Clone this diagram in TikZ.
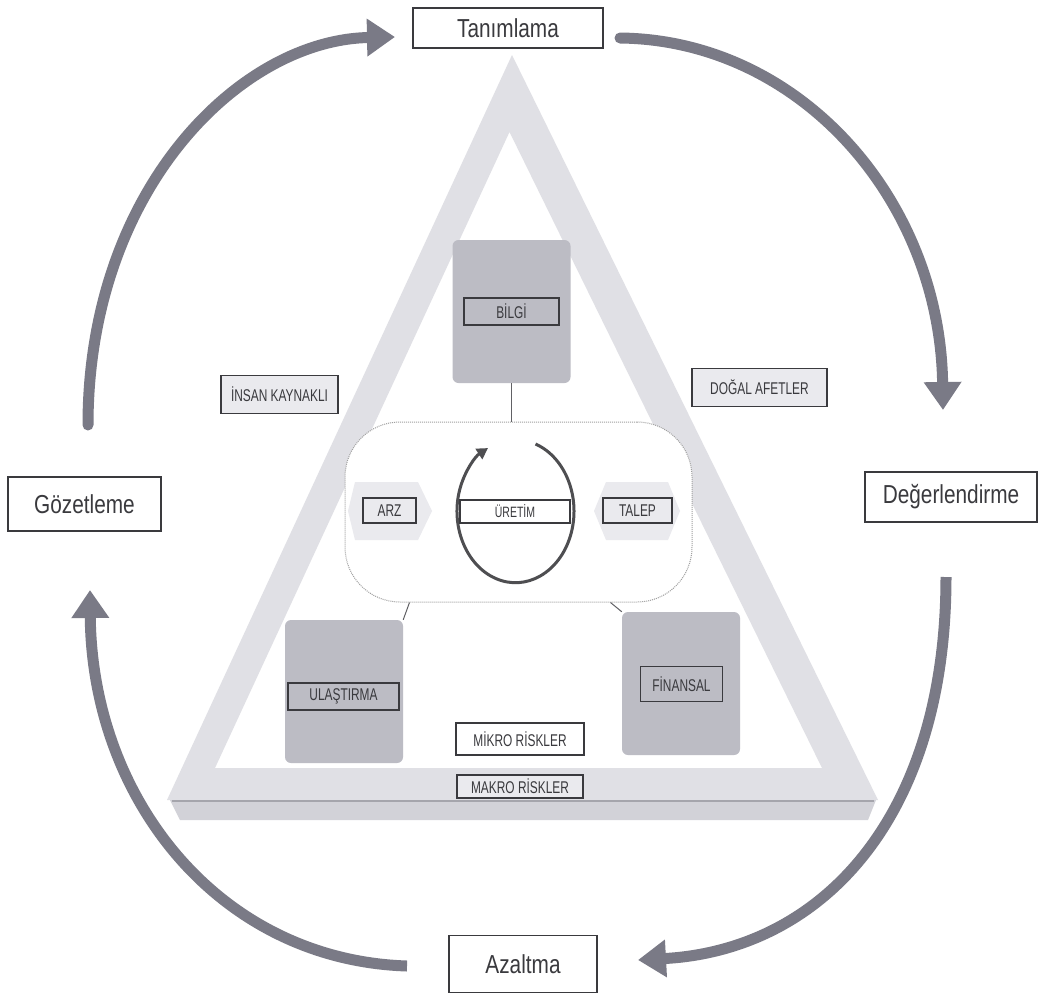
\documentclass[tikz,border=0pt]{standalone}
\usepackage{fontspec}
\setmainfont{Liberation Sans}[FakeStretch=0.8]
\newfontfamily\tagfont{Liberation Sans}[FakeStretch=0.7]
\usetikzlibrary{arrows.meta}
\definecolor{arrowgray}{RGB}{122,122,134}
\definecolor{boxgray}{RGB}{188,188,196}
\definecolor{bandgray}{RGB}{224,224,229}
\definecolor{slabgray}{RGB}{210,210,216}
\definecolor{slabline}{RGB}{165,165,172}
\definecolor{tagfill}{RGB}{234,234,238}
\definecolor{ink}{RGB}{58,58,62}
\begin{document}
\begin{tikzpicture}[x=1pt,y=-1pt,
  phase/.style={draw=ink, line width=1.4, fill=white, text=ink,
    font=\fontsize{26}{30}\selectfont, inner sep=0},
  tag/.style={draw=ink, line width=1.4, text=ink,
    font=\tagfont\fontsize{17}{19}\selectfont, inner sep=0},
  block/.style={fill=boxgray, rounded corners=6, inner sep=0,
    minimum width=118, minimum height=143},
  cycle arrow/.style={draw=arrowgray, line width=11,
    -{Triangle[width=36pt,length=28pt]}},
  link/.style={draw=ink!80, line width=1}
]
\useasboundingbox (0,0) rectangle (1041,996);
\fill[white] (0,0) rectangle (1041,996);

% risk triangle: light band with a raised bottom slab
\fill[bandgray, even odd rule]
  (512,55) -- (167,800) -- (878,800) -- cycle
  (509.5,132) -- (215,768) -- (822,768) -- cycle;
\fill[slabgray] (170,800) -- (876,800) -- (868,820) -- (180,820) -- cycle;
\draw[slabline, line width=2] (172,801) -- (874,801);

% outer cycle labels
\node[phase, minimum width=190, minimum height=40] (tan) at (508,28) {Tanımlama};
\node[phase, minimum width=172, minimum height=50] (deg) at (951,497) {Değerlendirme};
\node[phase, minimum width=148, minimum height=57] (aza) at (523,964) {Azaltma};
\node[phase, minimum width=153, minimum height=54] (goz) at (84.5,504) {Gözetleme};

% free ends of the cycle arrows
\coordinate (gozA) at (88,425);
\coordinate (tanA) at (395,37);
\coordinate (tanB) at (620,38);
\coordinate (degA) at (943,410);
\coordinate (degB) at (946,577);
\coordinate (azaA) at (638,960);
\coordinate (azaB) at (407,966);
\coordinate (gozB) at (90,590);

\draw[cycle arrow, line cap=round] (gozA) .. controls (88,190) and (240,40) .. (tanA);
\draw[cycle arrow, line cap=round] (tanB) .. controls (800,40) and (940,200) .. (degA);
\draw[cycle arrow] (degB) .. controls (946,820) and (820,950) .. (azaA);
\draw[cycle arrow] (azaB) .. controls (220,960) and (92,800) .. (gozB);

% risk sources
\node[tag, fill=tagfill, minimum width=117, minimum height=38] (insan) at (279.5,394.5) {İNSAN KAYNAKLI};
\node[tag, fill=tagfill, minimum width=135, minimum height=38] (dogal) at (759.5,387.5) {DOĞAL AFETLER};

% grey blocks
\node[block] (bilgi) at (511.5,311.5) {};
\node[block] (ulas) at (344,691.5) {};
\node[block] (fin) at (681,683.5) {};
\node[tag, minimum width=95, minimum height=27] at (bilgi) {BİLGİ};
\node[tag, minimum width=111, minimum height=27] at (343.5,696.5) {ULAŞTIRMA};
\node[tag, minimum width=82, minimum height=35] at (681.5,684) {FİNANSAL};

% production core
\node[draw=gray!75, densely dotted, line width=1, fill=white, rounded corners=55,
  minimum width=347, minimum height=180, inner sep=0] (core) at (518.5,512) {};
\draw[link] (bilgi.south) -- (bilgi.south |- core.north);
\draw[link] ([xshift=65pt]core.south west) -- (ulas.north east);
\draw[link] ([xshift=-82pt]core.south east) -- (fin.north west);

% supply and demand backings
\fill[tagfill] (355,482) -- (418,482) -- (432,511) -- (418,540) -- (355,540) -- (348,511) -- cycle;
\fill[tagfill] (606,482) -- (668,482) -- (680,511) -- (668,540) -- (606,540) -- (594,511) -- cycle;

% circular production arrow
\draw[draw=ink!90, line width=3, -{Triangle[width=12pt,length=11pt]}]
  (535.5,444) arc[start angle=-70, end angle=242, x radius=58.5, y radius=71.5];

\node[tag, fill=tagfill, minimum width=53, minimum height=25] (arz) at (389.5,510.5) {ARZ};
\node[tag, fill=tagfill, minimum width=69, minimum height=25] (talep) at (637.5,510.5) {TALEP};
\node[tag, fill=white, minimum width=110, minimum height=23,
  font=\tagfont\fontsize{15}{17}\selectfont] (uretim) at (515,511.5) {ÜRETİM};

% risk levels
\node[tag, fill=white, minimum width=128, minimum height=32] (mikro) at (520,739) {MİKRO RİSKLER};
\node[tag, fill=tagfill, minimum width=126, minimum height=23] (makro) at (520,786.5) {MAKRO RİSKLER};
\end{tikzpicture}
\end{document}
